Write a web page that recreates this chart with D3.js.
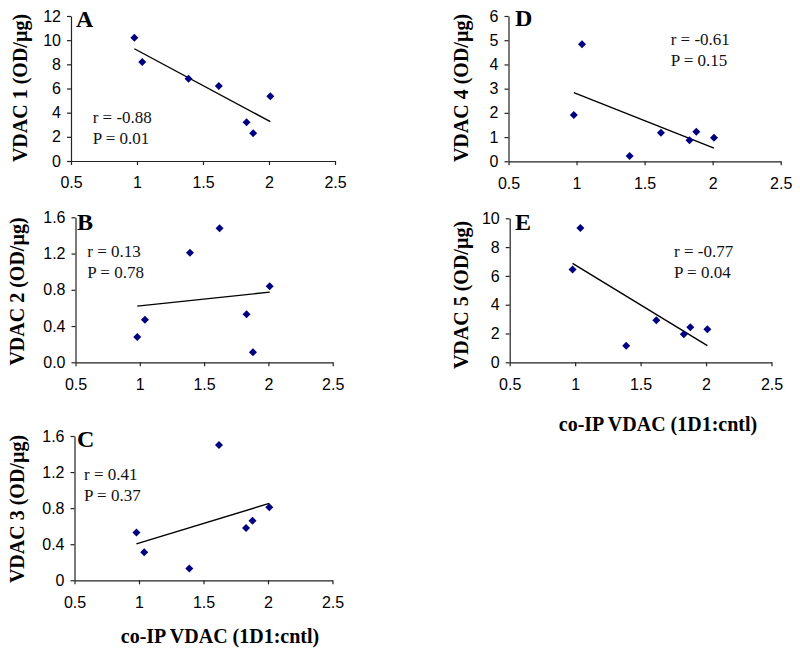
<!DOCTYPE html>
<html>
<head>
<meta charset="utf-8">
<script src="https://cdn.jsdelivr.net/npm/d3@7/dist/d3.min.js"></script>
<style>
  html, body { margin: 0; padding: 0; background: #fff; }
  svg { display: block; }
</style>
</head>
<body>
<svg id="chart" width="800" height="655"></svg>
<script>
// ---------------- DATA ----------------
const coIP   = [0.98, 1.04, 1.39, 1.62, 1.83, 1.88, 2.01];
const vdac1  = [10.2, 8.2, 6.8, 6.2, 3.2, 2.3, 5.35];
const vdac2  = [0.28, 0.47, 1.21, 1.48, 0.53, 0.11, 0.84];
const vdac3  = [0.53, 0.31, 0.13, 1.50, 0.58, 0.66, 0.81];
const vdac4  = [1.91, 4.83, 0.22, 1.18, 0.87, 1.22, 0.97];
const vdac5  = [6.45, 9.32, 1.15, 2.92, 1.94, 2.44, 2.29];

const xTicks  = [0.5, 1, 1.5, 2, 2.5];
const yTicks1 = [0, 2, 4, 6, 8, 10, 12];
const yTicks2 = [0, 0.4, 0.8, 1.2, 1.6];
const yTicks3 = [0, 0.4, 0.8, 1.2, 1.6];
const yTicks4 = [0, 1, 2, 3, 4, 5, 6];
const yTicks5 = [0, 2, 4, 6, 8, 10];
const yTickLabels2 = ["0.0", "0.4", "0.8", "1.2", "1.6"];
const yTickLabels3 = ["0", "0.4", "0.8", "1.2", "1.6"];

const panelLetters = ["A", "B", "C", "D", "E"];
const yTitles = ["VDAC 1 (OD/µg)", "VDAC 2 (OD/µg)", "VDAC 3 (OD/µg)", "VDAC 4 (OD/µg)", "VDAC 5 (OD/µg)"];
const rTexts = ["r = -0.88", "r = 0.13", "r = 0.41", "r = -0.61", "r = -0.77"];
const pTexts = ["P = 0.01", "P = 0.78", "P = 0.37", "P = 0.15", "P = 0.04"];
const xTitle = "co-IP VDAC (1D1:cntl)";

// ---------------- LAYOUT ----------------
const layout = [
  { l: 71,    r: 335,   t: 16,    b: 161,   ys: yTicks1, yl: null,          vals: vdac1, titleX: 27,  titleY: 88,    letter: [76, 27],   stat: [92.7, 123.3] },
  { l: 75.5,  r: 332.7, t: 217.3, b: 362.3, ys: yTicks2, yl: yTickLabels2,  vals: vdac2, titleX: 24,  titleY: 291.5, letter: [77, 230],  stat: [87.3, 257.3] },
  { l: 74.5,  r: 332.5, t: 436,   b: 580.3, ys: yTicks3, yl: yTickLabels3,  vals: vdac3, titleX: 23.5,titleY: 509,   letter: [77, 446.7],stat: [84, 480] },
  { l: 508.5, r: 780.7, t: 16,    b: 161.3, ys: yTicks4, yl: null,          vals: vdac4, titleX: 468, titleY: 88,    letter: [515, 26],  stat: [670.7, 45] },
  { l: 509.7, r: 771.5, t: 218.3, b: 362.3, ys: yTicks5, yl: null,          vals: vdac5, titleX: 468, titleY: 295,   letter: [515, 230], stat: [674, 256.7] }
];
const xTitlePos = [[220, 643], [658, 431]];

const MARK = "#000080";
const svg = d3.select("#chart");

function fit(xs, ys) {
  const mx = d3.mean(xs), my = d3.mean(ys);
  const sxy = d3.sum(xs, (x, i) => (x - mx) * (ys[i] - my));
  const sxx = d3.sum(xs, x => (x - mx) * (x - mx));
  const m = sxy / sxx;
  return x => my + m * (x - mx);
}

layout.forEach((p, i) => {
  const ys = p.ys;
  const x = d3.scaleLinear().domain([xTicks[0], xTicks[xTicks.length - 1]]).range([p.l, p.r]);
  const y = d3.scaleLinear().domain([ys[0], ys[ys.length - 1]]).range([p.b, p.t]);
  const g = svg.append("g");

  const yAxis = d3.axisLeft(y).tickValues(ys).tickSize(4).tickSizeOuter(0).tickPadding(6)
    .tickFormat((d, k) => p.yl ? p.yl[k] : d3.format("")(d));
  const ga = g.append("g").attr("transform", `translate(${p.l},0)`).call(yAxis);
  const xAxis = d3.axisBottom(x).tickValues(xTicks).tickSize(4).tickSizeOuter(0).tickPadding(12)
    .tickFormat(d3.format(""));
  const gx = g.append("g").attr("transform", `translate(0,${p.b})`).call(xAxis);

  [ga, gx].forEach(a => {
    a.attr("font-size", null).attr("font-family", null);
    a.selectAll("path.domain").attr("stroke", "#222").attr("stroke-width", 1.2);
    a.selectAll(".tick line").attr("stroke", "#222").attr("stroke-width", 1.2);
    a.selectAll(".tick text").attr("fill", "#000")
      .style("font-family", "'Liberation Sans', Arial, sans-serif").style("font-size", "16px");
  });

  const f = fit(coIP, p.vals);
  const x0 = d3.min(coIP), x1 = d3.max(coIP);
  g.append("line")
    .attr("x1", x(x0)).attr("y1", y(f(x0)))
    .attr("x2", x(x1)).attr("y2", y(f(x1)))
    .attr("stroke", "#000").attr("stroke-width", 1.4);

  const sym = d3.symbol().type(d3.symbolSquare).size(32);
  g.selectAll("path.pt").data(p.vals).join("path")
    .attr("class", "pt")
    .attr("d", sym)
    .attr("transform", (d, k) => `translate(${x(coIP[k])},${y(d)}) rotate(45)`)
    .attr("fill", MARK);

  g.append("text")
    .attr("transform", `translate(${p.titleX},${p.titleY}) rotate(-90)`)
    .attr("text-anchor", "middle")
    .style("font-family", "'Liberation Serif', 'Times New Roman', serif")
    .style("font-weight", "bold").style("font-size", "20px")
    .text(yTitles[i]);

  g.append("text")
    .attr("x", p.letter[0]).attr("y", p.letter[1])
    .style("font-family", "'Liberation Serif', 'Times New Roman', serif")
    .style("font-weight", "bold").style("font-size", "24px")
    .text(panelLetters[i]);

  const st = g.append("text")
    .style("font-family", "'Liberation Serif', 'Times New Roman', serif")
    .style("font-size", "17px").attr("fill", "#111");
  st.append("tspan").attr("x", p.stat[0]).attr("y", p.stat[1]).text(rTexts[i]);
  st.append("tspan").attr("x", p.stat[0]).attr("y", p.stat[1] + 21).text(pTexts[i]);
});

xTitlePos.forEach(pos => {
  svg.append("text")
    .attr("x", pos[0]).attr("y", pos[1])
    .attr("text-anchor", "middle")
    .style("font-family", "'Liberation Serif', 'Times New Roman', serif")
    .style("font-weight", "bold").style("font-size", "20px")
    .text(xTitle);
});
</script>
</body>
</html>
